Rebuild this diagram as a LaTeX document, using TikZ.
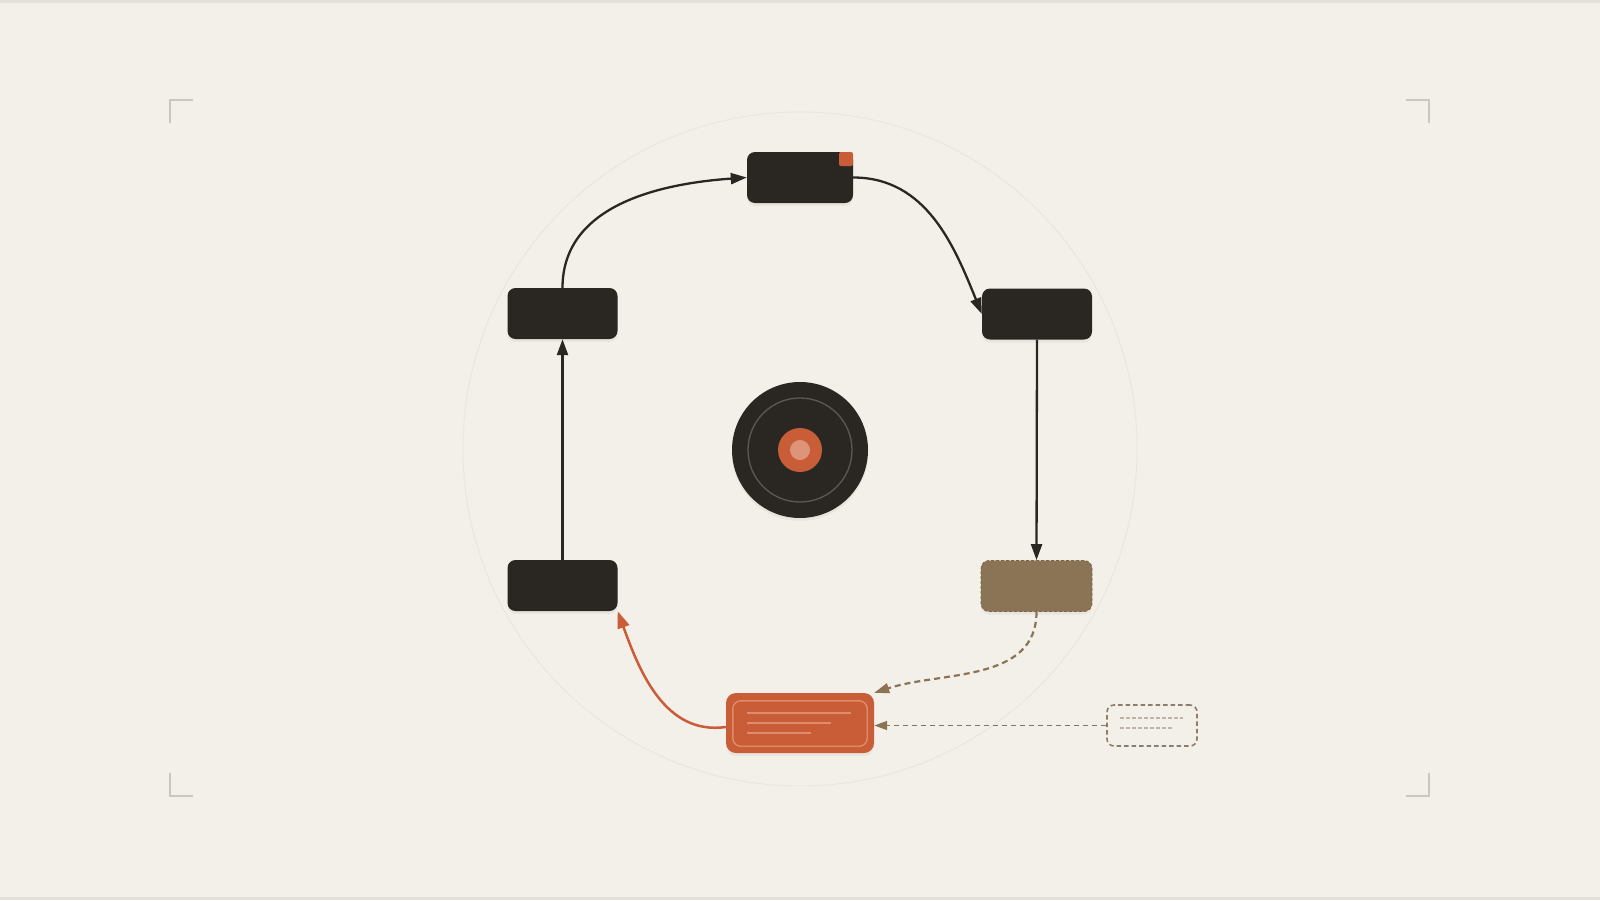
\documentclass[tikz,border=0pt]{standalone}
\usetikzlibrary{arrows.meta}
\definecolor{bg}{HTML}{F3EFE9}
\definecolor{edge}{HTML}{E4DFD8}
\definecolor{dark}{HTML}{2A2723}
\definecolor{accent}{HTML}{C95D38}
\definecolor{accentlight}{HTML}{E08C6C}
\definecolor{brown}{HTML}{8B7455}
\definecolor{browndash}{HTML}{7A6448}
\definecolor{ghost}{HTML}{8E7D6B}
\definecolor{ghostline}{HTML}{BDB3A8}
\definecolor{mark}{HTML}{CBC6BF}
\definecolor{orbit}{HTML}{EAE5DE}
\definecolor{ring}{HTML}{5C5852}
\definecolor{core}{HTML}{DE9479}
\tikzset{
  darkbox/.style={fill=dark, rounded corners=8pt, minimum width=110pt, minimum height=51pt, inner sep=0pt},
  topbox/.style={fill=dark, rounded corners=8pt, minimum width=106pt, minimum height=51pt, inner sep=0pt},
  brownbox/.style={fill=brown, draw=browndash, dashed, dash pattern=on 3pt off 2pt, line width=0.8pt, rounded corners=8pt, minimum width=111pt, minimum height=51pt, inner sep=0pt},
  orangebox/.style={fill=accent, rounded corners=10pt, minimum width=148pt, minimum height=60pt, inner sep=0pt},
  ghostbox/.style={draw=ghost, dash pattern=on 4.5pt off 3pt, line width=1.6pt, rounded corners=7pt, minimum width=90pt, minimum height=41pt, inner sep=0pt},
  shadowed/.style={preaction={fill=black, opacity=0.045, transform canvas={yshift=-3pt}}},
  flow/.style={draw=dark, line width=2.3pt, -{Triangle[length=16pt,width=11pt]}},
  dflow/.style={draw=brown, line width=2.2pt, dash pattern=on 6pt off 4pt, -{Triangle[length=15pt,width=10pt]}},
  hflow/.style={draw=brown, line width=1.6pt, dash pattern=on 5pt off 4pt, -{Triangle[length=13pt,width=9pt]}},
  oflow/.style={draw=accent, line width=2.5pt, -{Triangle[length=17pt,width=12pt]}},
  cornermark/.style={draw=mark, line width=1.6pt},
}
\begin{document}
\begin{tikzpicture}[x=1pt,y=-1pt]
\useasboundingbox (0,0) rectangle (1600,900);
\fill[bg] (0,0) rectangle (1600,900);
\fill[edge] (0,0) rectangle (1600,3);
\fill[edge] (0,897) rectangle (1600,900);
% corner marks
\draw[cornermark] (170,123) -- (170,100) -- (193,100);
\draw[cornermark] (1406,100) -- (1429,100) -- (1429,123);
\draw[cornermark] (170,773) -- (170,796) -- (193,796);
\draw[cornermark] (1406,796) -- (1429,796) -- (1429,773);
% orbit
\draw[orbit, line width=0.9pt] (800,449) circle[radius=337];
% hub
\node[circle, fill=dark, minimum size=136pt, inner sep=0pt, shadowed] (hub) at (800,450) {};
\draw[ring, line width=1.3pt] (hub.center) circle[radius=52];
\fill[accent] (hub.center) circle[radius=22];
\fill[core] (hub.center) circle[radius=10];
% boxes
\node[topbox, shadowed] (tb) at (800,177.5) {};
\node[fill=accent, rounded corners=2pt, minimum size=14pt, inner sep=0pt, anchor=north east] (tag) at (tb.north east) {};
\node[darkbox, shadowed] (lb) at (562.5,313.5) {};
\node[darkbox, shadowed] (rb) at (1037,314) {};
\node[darkbox, shadowed] (bl) at (562.5,585.5) {};
\node[brownbox, shadowed] (bb) at (1036.5,586) {};
\node[orangebox, shadowed] (ob) at (800,723) {};
\node[ghostbox] (db) at (1152,725.5) {};
% orange box content
\draw[accentlight, line width=1.4pt, rounded corners=8pt] ([xshift=7pt,yshift=-8pt]ob.north west) rectangle ([xshift=-7pt,yshift=7pt]ob.south east);
\draw[accentlight, line width=1.8pt] (747,713) -- (851,713);
\draw[accentlight, line width=1.8pt] (747,723) -- (831,723);
\draw[accentlight, line width=1.8pt] (747,733) -- (811,733);
% ghost box content
\draw[ghostline, line width=1.4pt, dash pattern=on 4pt off 2pt] (1120,718) -- (1183,718);
\draw[ghostline, line width=1.4pt, dash pattern=on 4pt off 2pt] (1120,728) -- (1172,728);
% connectors
\draw[flow] (lb.north) to[out=90,in=184] (tb.west);
\draw[flow] (tb.east) to[out=0,in=112] (rb.west);
\draw[flow] (rb.south) -- (bb.north);
\draw[flow] (bl.north) -- (lb.south);
\draw[dflow] (bb.south) to[out=-90,in=18] (ob.north east);
\draw[hflow] (db.west) -- (db.west -| ob.east);
\draw[oflow] ([yshift=-4pt]ob.west) to[out=188,in=-70] (bl.south east);
\end{tikzpicture}
\end{document}
